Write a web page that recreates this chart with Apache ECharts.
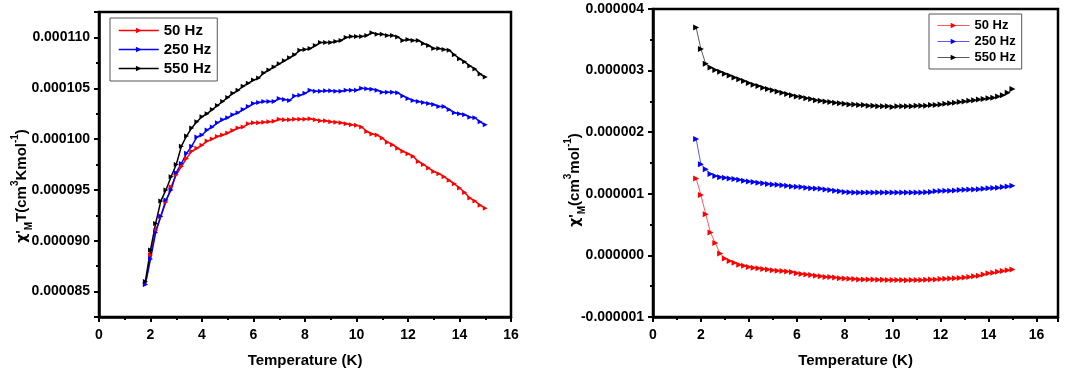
<!DOCTYPE html>
<html>
<head>
<meta charset="utf-8">
<script src="https://cdn.jsdelivr.net/npm/echarts@6/dist/echarts.min.js"></script>
<style>
  html, body { margin: 0; padding: 0; background: #fff; }
  #chart { width: 1084px; height: 373px; }
</style>
</head>
<body>
<div id="chart"></div>
<script>
// temperatures (K), shared by every curve
const temps = [1.8, 2.0, 2.2, 2.4, 2.6, 2.8, 3.0, 3.2, 3.4, 3.6, 3.8, 4.0, 4.2, 4.4, 4.6, 4.8,
  5.0, 5.2, 5.4, 5.6, 5.8, 6.0, 6.2, 6.4, 6.6, 6.8, 7.0, 7.2, 7.4, 7.6, 7.8, 8.0, 8.2, 8.4,
  8.6, 8.8, 9.0, 9.2, 9.4, 9.6, 9.8, 10.0, 10.2, 10.4, 10.6, 10.8, 11.0, 11.2, 11.4, 11.6,
  11.8, 12.0, 12.2, 12.4, 12.6, 12.8, 13.0, 13.2, 13.4, 13.6, 13.8, 14.0, 14.2, 14.4, 14.6,
  14.8, 15.0]

// left panel: chi'M T, in units of 1e-6 cm3 K mol-1
const chiT50 = [85.7, 88.6, 91.0, 92.4, 93.8, 95.3, 96.5, 97.3, 98.1, 98.8, 99.1, 99.4, 99.8,
  100.0, 100.25, 100.4, 100.6, 100.85, 101.1, 101.2, 101.5, 101.6, 101.6, 101.65, 101.7, 101.75,
  101.95, 101.9, 101.9, 101.95, 101.95, 101.95, 102.0, 101.9, 101.8, 101.8, 101.7, 101.65, 101.6,
  101.5, 101.4, 101.35, 101.2, 100.75, 100.5, 100.4, 100.1, 99.7, 99.45, 99.1, 98.8, 98.55, 98.3,
  97.8, 97.5, 97.15, 96.8, 96.6, 96.3, 95.95, 95.6, 95.2, 94.75, 94.2, 93.9, 93.5, 93.2]
const chiT250 = [85.7, 88.2, 90.8, 92.4, 94.0, 95.0, 96.7, 97.6, 98.6, 99.3, 100.2, 100.4, 100.9,
  101.2, 101.6, 101.9, 102.1, 102.4, 102.6, 102.9, 103.2, 103.5, 103.6, 103.7, 103.7, 103.7,
  104.0, 103.9, 103.8, 104.25, 104.3, 104.5, 104.8, 104.7, 104.7, 104.75, 104.75, 104.7, 104.7,
  104.8, 104.8, 104.8, 105.0, 104.95, 104.9, 104.8, 104.6, 104.6, 104.6, 104.55, 104.25, 104.0,
  103.8, 103.7, 103.6, 103.5, 103.4, 103.2, 103.2, 102.9, 102.6, 102.5, 102.4, 102.15, 102.1,
  101.7, 101.4]
const chiT550 = [86.0, 89.1, 91.7, 93.9, 95.0, 96.3, 97.5, 99.3, 100.3, 101.1, 101.7, 102.2, 102.5,
  102.9, 103.3, 103.7, 104.1, 104.5, 104.8, 105.2, 105.5, 105.8, 106.0, 106.5, 106.8, 107.1,
  107.4, 107.7, 108.0, 108.3, 108.75, 108.8, 108.9, 109.2, 109.5, 109.5, 109.5, 109.6, 109.7,
  110.0, 110.1, 110.1, 110.1, 110.2, 110.45, 110.3, 110.3, 110.2, 110.2, 110.05, 109.7, 109.8,
  109.7, 109.7, 109.4, 109.2, 108.9, 108.9, 108.8, 108.75, 108.3, 107.9, 107.6, 107.2, 106.9,
  106.4, 106.1]

// right panel: chi'M, in units of 1e-6 cm3 mol-1
const chi50 = [1.25, 0.98, 0.67, 0.37, 0.20, 0.03, -0.05, -0.09, -0.12, -0.15, -0.17, -0.19, -0.20,
  -0.21, -0.22, -0.23, -0.24, -0.25, -0.255, -0.26, -0.27, -0.29, -0.30, -0.31, -0.32, -0.33,
  -0.34, -0.35, -0.35, -0.36, -0.37, -0.375, -0.38, -0.385, -0.39, -0.39, -0.39, -0.39, -0.395,
  -0.395, -0.40, -0.40, -0.40, -0.40, -0.405, -0.40, -0.40, -0.40, -0.395, -0.39, -0.39, -0.385,
  -0.38, -0.375, -0.37, -0.365, -0.36, -0.35, -0.34, -0.33, -0.31, -0.29, -0.28, -0.265, -0.255,
  -0.24, -0.23]
const chi250 = [1.89, 1.48, 1.40, 1.32, 1.29, 1.27, 1.26, 1.25, 1.24, 1.23, 1.21, 1.20, 1.19, 1.18,
  1.17, 1.16, 1.15, 1.145, 1.14, 1.13, 1.12, 1.115, 1.11, 1.10, 1.09, 1.085, 1.08, 1.07, 1.06,
  1.05, 1.04, 1.03, 1.025, 1.02, 1.02, 1.02, 1.02, 1.02, 1.02, 1.02, 1.02, 1.02, 1.02, 1.02, 1.02,
  1.02, 1.02, 1.02, 1.025, 1.03, 1.04, 1.045, 1.05, 1.05, 1.055, 1.06, 1.065, 1.07, 1.07, 1.075,
  1.08, 1.09, 1.095, 1.10, 1.11, 1.12, 1.13]
const chi550 = [3.70, 3.35, 3.11, 3.05, 3.01, 2.98, 2.95, 2.92, 2.89, 2.86, 2.83, 2.80, 2.77, 2.75,
  2.72, 2.70, 2.68, 2.66, 2.64, 2.62, 2.60, 2.58, 2.57, 2.55, 2.54, 2.52, 2.51, 2.50, 2.49, 2.48,
  2.47, 2.46, 2.45, 2.45, 2.44, 2.44, 2.43, 2.43, 2.42, 2.42, 2.42, 2.41, 2.42, 2.42, 2.42, 2.42,
  2.43, 2.43, 2.43, 2.44, 2.44, 2.45, 2.46, 2.47, 2.48, 2.49, 2.50, 2.51, 2.52, 2.53, 2.54, 2.55,
  2.56, 2.58, 2.60, 2.64, 2.70]

const names = ['50 Hz', '250 Hz', '550 Hz']
const colors = ['#ff0000', '#0000ff', '#000000']

const FONT = '"Liberation Sans", Arial, sans-serif'
const pairs = (ys) => ys.map((v, i) => [temps[i], v])
const micro = (v) => (v / 1e6).toFixed(6)

const chart = echarts.init(document.getElementById('chart'), null, { renderer: 'canvas' })

function xAxisOpt(gridIndex, max) {
  return {
    type: 'value',
    gridIndex,
    min: 0,
    max,
    interval: 2,
    name: 'Temperature (K)',
    nameLocation: 'middle',
    nameGap: 36,
    nameTextStyle: { fontFamily: FONT, fontWeight: 'bold', fontSize: 15, color: '#000' },
    axisLine: { onZero: false, lineStyle: { color: '#000', width: 2.5 } },
    axisTick: { inside: false, length: 5, lineStyle: { width: 2, color: '#000' } },
    minorTick: { show: true, splitNumber: 2, length: 3, lineStyle: { width: 2, color: '#000' } },
    splitLine: { show: false },
    axisLabel: {
      fontFamily: FONT, fontWeight: 'bold', fontSize: 14, color: '#000', margin: 11,
      showMaxLabel: max === 16,
      formatter: (v) => (v % 2 === 0 ? String(v) : ''),
    },
  }
}

function yAxisOpt(gridIndex, min, max, split) {
  return {
    type: 'value',
    gridIndex,
    min,
    max,
    splitNumber: split,
    axisLine: { onZero: false, lineStyle: { color: '#000', width: 2.5 } },
    axisTick: { inside: false, length: 5, lineStyle: { width: 2, color: '#000' } },
    minorTick: { show: true, splitNumber: 2, length: 3, lineStyle: { width: 2, color: '#000' } },
    splitLine: { show: false },
    axisLabel: {
      fontFamily: FONT, fontWeight: 'bold', fontSize: 14, color: '#000', margin: 9,
      showMinLabel: min % 1 === 0,
      showMaxLabel: max % 1 === 0,
      formatter: (v) => micro(v),
    },
  }
}

function lineSeries(i, xi, ys, thin) {
  return {
    name: names[i],
    type: 'line',
    xAxisIndex: xi,
    yAxisIndex: xi,
    data: pairs(ys),
    symbol: 'triangle',
    symbolRotate: -90,
    symbolSize: thin ? 6 : 5,
    showAllSymbol: true,
    lineStyle: { color: colors[i], width: thin ? 1 : 1.5, opacity: thin ? 0.65 : 1 },
    itemStyle: { color: colors[i] },
    animation: false,
  }
}

const richTitle = {
  chi: { fontFamily: '"DejaVu Sans", sans-serif', fontWeight: 'bold', fontSize: 14, color: '#000', lineHeight: 24 },
  b: { fontFamily: FONT, fontWeight: 'bold', fontSize: 15, color: '#000', lineHeight: 24 },
  sup: { fontFamily: FONT, fontWeight: 'bold', fontSize: 10, color: '#000', verticalAlign: 'top', lineHeight: 12 },
  sub: { fontFamily: FONT, fontWeight: 'bold', fontSize: 10, color: '#000', verticalAlign: 'bottom', lineHeight: 12 },
}

function legendOpt(left, top, fontSize, gap, lineW, thin) {
  return {
    left, top,
    orient: 'vertical',
    itemGap: gap,
    itemWidth: lineW,
    itemHeight: 7,
    padding: [5, 6, 5, 8],
    borderColor: '#555',
    borderWidth: 1,
    symbolRotate: -90,
    textStyle: { fontFamily: FONT, fontWeight: 'bold', fontSize, color: '#000' },
    data: names.map((n, i) => ({
      name: n,
      itemStyle: { color: colors[i] },
      lineStyle: { color: colors[i], width: thin ? 1 : 1.5, opacity: thin ? 0.65 : 1 },
    })),
  }
}

chart.setOption({
  backgroundColor: '#fff',
  animation: false,
  grid: [
    { left: 99, top: 12, width: 412, height: 305, show: true, borderColor: '#000', borderWidth: 2.5 },
    { left: 653, top: 9, width: 405, height: 308, show: true, borderColor: '#000', borderWidth: 2.5 },
  ],
  xAxis: [xAxisOpt(0, 16), xAxisOpt(1, 16.9)],
  yAxis: [yAxisOpt(0, 82.5, 112.5, 6), yAxisOpt(1, -1, 4, 5)],
  legend: [
    legendOpt(110, 18, 15, 4, 40, false),
    legendOpt(929, 14, 13, 3, 32, true),
  ],
  graphic: [
    {
      type: 'text',
      x: 22, y: 186,
      rotation: Math.PI / 2,
      style: {
        text: "{chi|χ}{b|'}{sub|M}{b|T(cm}{sup|3}{b|Kmol}{sup|-1}{b|)}",
        rich: richTitle,
        align: 'center',
        verticalAlign: 'middle',
      },
    },
    {
      type: 'text',
      x: 575, y: 180,
      rotation: Math.PI / 2,
      style: {
        text: "{chi|χ}{b|'}{sub|M}{b|(cm}{sup|3}{b|mol}{sup|-1}{b|)}",
        rich: richTitle,
        align: 'center',
        verticalAlign: 'middle',
      },
    },
  ],
  series: [
    lineSeries(0, 0, chiT50, false),
    lineSeries(1, 0, chiT250, false),
    lineSeries(2, 0, chiT550, false),
    lineSeries(0, 1, chi50, true),
    lineSeries(1, 1, chi250, true),
    lineSeries(2, 1, chi550, true),
  ],
})
</script>
</body>
</html>
